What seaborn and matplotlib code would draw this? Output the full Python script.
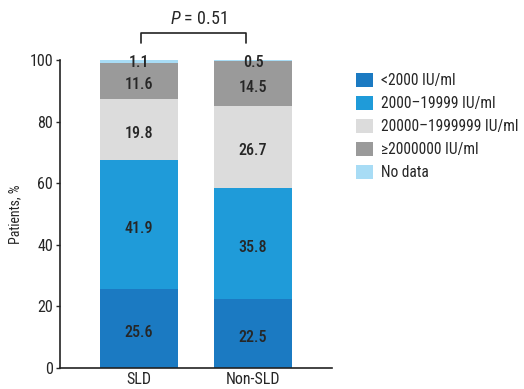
import numpy as np
import pandas as pd
import matplotlib
matplotlib.use("Agg")
import matplotlib.pyplot as plt
from matplotlib.patches import Patch
import seaborn as sns

# Viral load distribution by group (% of patients)
groups = ["SLD", "Non-SLD"]
categories = ["<2000 IU/ml", "2000–19999 IU/ml", "20000–1999999 IU/ml",
              "≥2000000 IU/ml", "No data"]
sld = [25.6, 41.9, 19.8, 11.6, 1.1]
non_sld = [22.5, 35.8, 26.7, 14.5, 0.5]
colors = ["#1b7ac2", "#1f9bd9", "#dcdcdc", "#9a9a9a", "#a8dcf5"]
p_label = "$P$ = 0.51"

sns.set_theme(style="white")
plt.rcParams["font.family"] = ["Roboto Condensed", "DejaVu Sans"]
plt.rcParams["mathtext.fontset"] = "custom"
plt.rcParams["mathtext.it"] = "Roboto Condensed:italic"
text_color = "#262626"

values = np.array([sld, non_sld])
cum = np.cumsum(values, axis=1)

fig = plt.figure(figsize=(5.24, 3.89), dpi=100)
ax = fig.add_axes([0.1145, 0.054, 0.519, 0.792])

# stacked bars: draw cumulative totals from the top layer down
for k in range(len(categories) - 1, -1, -1):
    df = pd.DataFrame({"group": groups, "value": cum[:, k]})
    sns.barplot(data=df, x="group", y="value", color=colors[k], width=0.68,
                saturation=1, errorbar=None, ax=ax, linewidth=0)

# segment labels
for i in range(len(groups)):
    for k in range(len(categories)):
        v = values[i, k]
        top = cum[i, k]
        if v < 3:
            y = 99.0
        else:
            y = top - v / 2 - 1.2
        ax.text(i, y, f"{v:.1f}", ha="center", va="center", fontsize=11.5,
                color=text_color, fontweight="medium")

ax.set_xlim(-0.693, 1.693)
ax.set_ylim(0, 100)
ax.set_yticks([0, 20, 40, 60, 80, 100])
ax.set_xlabel("")
ax.set_ylabel("Patients, %", fontsize=10, color=text_color, labelpad=5)
ax.tick_params(axis="both", labelsize=11.5, colors=text_color, length=3,
               width=1, direction="out")
ax.tick_params(axis="x", length=2, pad=1)
ax.tick_params(axis="y", left=True, pad=2)
for s in ["top", "right"]:
    ax.spines[s].set_visible(False)
for s in ["left", "bottom"]:
    ax.spines[s].set_color("#222222")
    ax.spines[s].set_linewidth(1.2)

# significance bracket
ax.plot([0.02, 0.02, 0.94, 0.94], [105.5, 108.8, 108.8, 105.5],
        color="#222222", lw=1.2, clip_on=False)
ax.text(0.52, 110.3, p_label, ha="center", va="bottom", fontsize=13,
        color=text_color)

handles = [Patch(facecolor=c, edgecolor="none") for c in colors]
fig.legend(handles, categories, loc="upper left",
           bbox_to_anchor=(0.655, 0.845), frameon=False, fontsize=11.2,
           handlelength=1.1, handleheight=1.0, handletextpad=0.5,
           labelspacing=0.5, labelcolor=text_color, borderpad=0.3)

fig.savefig("out.png", dpi=100)
